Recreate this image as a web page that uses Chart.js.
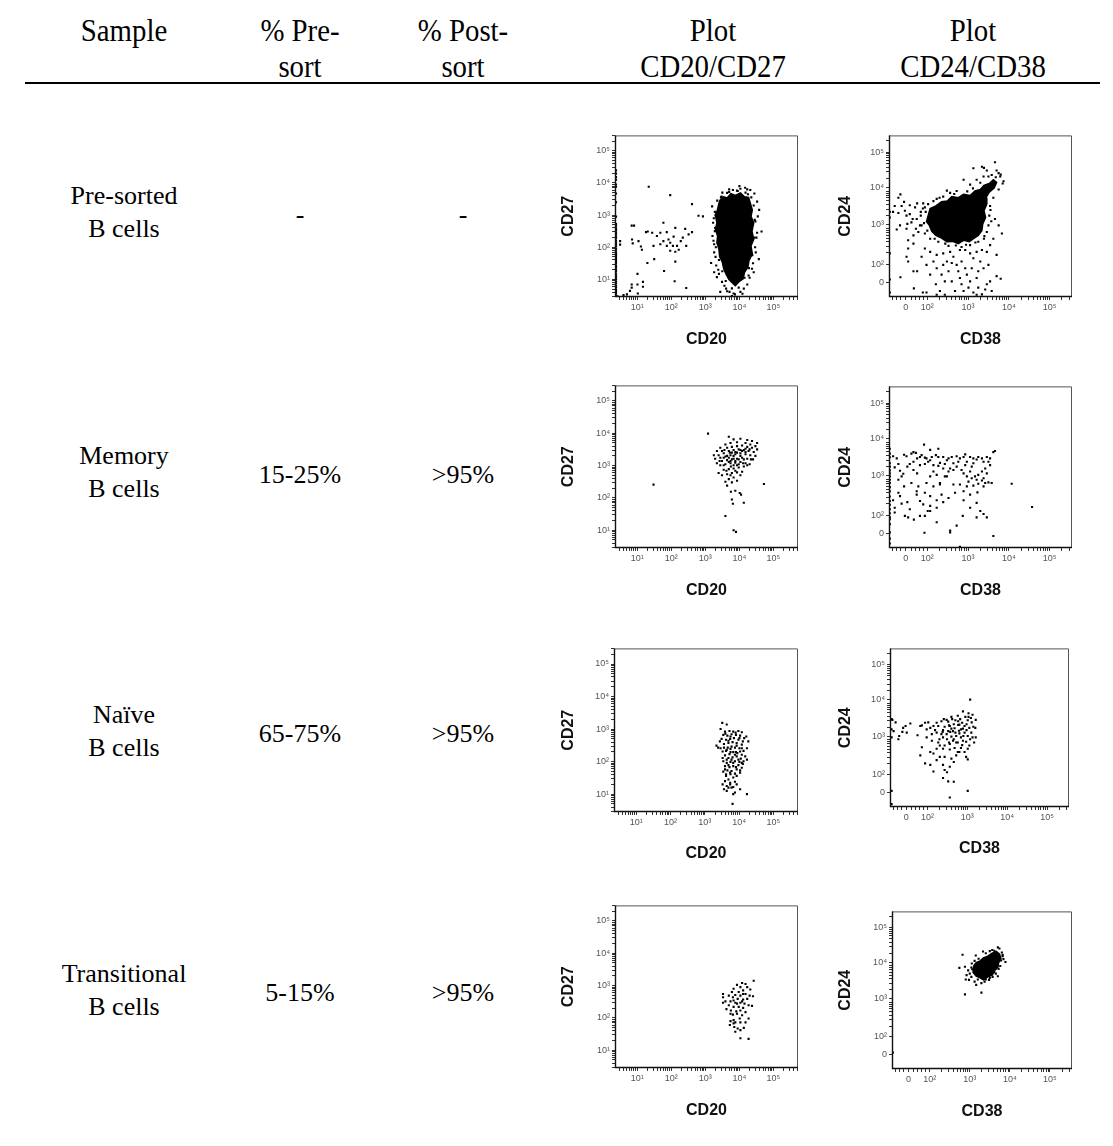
<!DOCTYPE html>
<html>
<head>
<meta charset="utf-8">
<script src="https://cdn.jsdelivr.net/npm/chart.js@4.4.0/dist/chart.umd.min.js"></script>
<style>
  body { margin: 0; background: #fff; }
  #page { position: relative; width: 1113px; height: 1146px; overflow: hidden;
          font-family: "Liberation Serif", "Times New Roman", serif; color: #000; }
  .t { position: absolute; transform: translate(-50%, -50%); white-space: nowrap; text-align: center; }
  .head { font-size: 32px; line-height: 36px; transform: translate(-50%, -50%) scaleX(0.9); }
  .cell { font-size: 26px; line-height: 33px; }
  #rule { position: absolute; left: 25px; top: 82px; width: 1075px; height: 2px; background: #000; }
  canvas { position: absolute; }
</style>
</head>
<body>
<div id="page"><div id="rule"></div></div>
<script>
// table text
const headers = [['Sample'], ['% Pre-', 'sort'], ['% Post-', 'sort'], ['Plot', 'CD20/CD27'], ['Plot', 'CD24/CD38']];
const samples = [['Pre-sorted', 'B cells'], ['Memory', 'B cells'], ['Naïve', 'B cells'], ['Transitional', 'B cells']];
const preSort = ['-', '15-25%', '65-75%', '5-15%'];
const postSort = ['-', '>95%', '>95%', '>95%'];

// axis ticks (display units: decades)
const cd20Ticks = [1, 2, 3, 4, 5];
const cd27Ticks = [1, 2, 3, 4, 5];
const logLabels = ['10¹', '10²', '10³', '10⁴', '10⁵'];
const cd38Ticks = [1.47, 2, 3, 4, 5];
const cd24Ticks = [1.52, 2, 3.05, 4.05, 5];
const biexLabels = ['0', '10²', '10³', '10⁴', '10⁵'];

// Pre-sorted B cells
const preCd20Core = [[3.42,3.45],[3.54,3.57],[3.64,3.53],[3.75,3.67],[3.88,3.61],[4.03,3.69],[4.15,3.57],[4.27,3.55],[4.32,3.37],[4.38,3.16],[4.34,2.96],[4.42,2.76],[4.37,2.50],[4.42,2.24],[4.34,2.04],[4.38,1.79],[4.28,1.58],[4.25,1.38],[4.15,1.22],[4.11,1.02],[3.98,0.92],[3.88,0.80],[3.78,0.90],[3.69,1.00],[3.62,1.14],[3.54,1.33],[3.50,1.53],[3.42,1.71],[3.40,1.94],[3.34,2.14],[3.36,2.35],[3.30,2.55],[3.34,2.76],[3.30,2.98],[3.36,3.18],[3.42,3.45]];
const preCd20Dots = [
  [1.34,3.88],[1.97,3.62],[2.61,3.34],[2.80,2.98],[2.93,2.96],[1.77,2.76],[2.12,2.60],[2.41,2.57],[2.51,2.40],[2.28,2.19],
  [2.07,2.33],[1.92,2.24],[1.68,2.45],[1.58,2.35],[1.48,2.04],[1.68,2.09],[1.87,2.04],[1.97,1.89],[2.12,1.86],[1.97,2.14],
  [2.22,1.92],[2.17,2.04],[2.34,2.30],[0.84,2.67],[0.91,2.67],[0.85,2.24],[0.87,2.12],[1.04,2.19],[1.11,2.02],[1.14,1.92],
  [0.50,2.19],[0.50,2.08],[1.26,2.47],[1.31,2.49],[1.44,2.45],[1.50,1.63],[1.30,1.51],[1.79,1.26],[2.12,1.55],[2.10,0.94],
  [2.44,0.73],[1.01,1.17],[0.84,0.84],[0.84,0.74],[0.79,0.64],[0.70,0.53],[1.01,0.84],[1.17,0.92],[1.17,0.77],[1.02,0.56],
  [0.60,0.51],[0.42,0.47],[1.87,2.47],[1.77,2.19],[2.05,2.04],[2.44,2.04],[2.61,2.47],
  [0.38,4.39],[0.38,4.29],[0.38,4.18],[0.38,4.10],[0.38,3.95],[0.38,3.88],[0.38,3.67],[0.38,3.40],[0.38,2.95],[0.38,2.72],
  [0.38,2.65],[0.38,2.58],[0.38,2.53],[0.38,2.46],[0.38,2.40],[0.38,2.33],[0.38,2.27],[0.38,2.20],[0.38,2.14],[0.38,2.08],
  [0.38,2.02],[0.38,1.95],[0.38,1.89],[0.38,1.82],[0.38,1.76],[0.38,1.70],[0.38,1.63],[0.38,1.57],[0.38,1.51],[0.38,1.44],
  [0.38,1.38],[0.38,1.31],[0.38,1.25],[0.38,1.18],[0.38,1.12],[0.38,1.06],[0.38,1.00],[0.38,0.93],[0.38,0.87],[0.38,0.80],
  [0.38,0.74],[0.38,0.67],[0.38,0.61],[0.38,0.55],[0.38,0.49],
  [3.20,3.27],[3.23,2.76],[3.21,2.35],[3.26,1.84],[3.32,1.43],[3.40,1.17],[3.49,0.92],[3.56,0.80],[3.64,0.63],[3.83,0.56],
  [4.03,0.61],[4.23,0.84],[4.37,1.33],[4.48,1.84],[4.52,2.45],[4.54,2.96],[4.58,3.16],[4.65,2.49],[4.52,3.42],[4.44,3.67],
  [4.23,3.80],[4.03,3.82],[3.81,3.78],[3.64,3.69],[3.46,3.55],[3.32,3.06],[3.44,0.61],[3.87,0.53],[4.09,0.55],[3.17,1.51],
  [3.26,1.22],[3.34,1.07],[4.27,1.12],[4.42,1.22],[4.57,1.63],[4.32,3.78],[3.93,3.76],[4.17,3.85],[3.29,2.60],[3.26,2.09],
  [3.61,0.71],[3.71,0.61],[4.13,0.71],[3.28,3.10],[3.25,2.90],[3.24,2.20],[3.30,1.70],[3.38,1.30],[4.47,2.80],[4.50,2.30],
  [4.46,2.00],[4.40,1.50],[4.30,1.05],[3.70,3.80],[4.00,3.90],[4.25,3.65],[3.50,3.70],[3.95,0.45],[3.78,0.48],[3.35,3.45],
  [3.30,3.00],[3.28,2.50],[3.31,2.00],[3.40,1.60],[3.50,1.25],[3.60,0.95],[3.78,0.72],[3.98,0.74],[4.15,1.05],[4.28,1.35],
  [4.38,1.75],[4.44,2.30],[4.45,2.85],[4.42,3.30],[4.35,3.55],[4.18,3.70],[3.95,3.75],[3.70,3.72],[3.48,3.58]
];
const preCd38Core = [[2.02,3.30],[2.07,3.49],[2.21,3.56],[2.35,3.67],[2.49,3.69],[2.60,3.81],[2.76,3.78],[2.89,3.87],[3.05,3.84],[3.17,3.96],[3.30,4.00],[3.39,4.11],[3.52,4.16],[3.62,4.26],[3.70,4.19],[3.64,4.04],[3.52,3.93],[3.44,3.78],[3.46,3.61],[3.39,3.43],[3.43,3.25],[3.36,3.08],[3.34,2.90],[3.25,2.77],[3.15,2.70],[3.03,2.60],[2.89,2.64],[2.76,2.55],[2.62,2.61],[2.48,2.60],[2.35,2.70],[2.21,2.77],[2.11,2.88],[2.05,3.04],[1.98,3.14],[2.02,3.30]];
const preCd38Dots = [
  [1.16,3.40],[1.29,3.37],[1.37,3.56],[1.45,3.43],[1.49,3.30],[1.57,3.34],[1.61,3.12],[1.70,3.52],[1.74,3.21],[1.82,3.04],
  [1.78,2.86],[1.66,2.77],[1.49,2.95],[1.33,3.04],[1.25,2.93],[1.29,3.78],[1.34,3.87],[1.75,3.63],[1.84,3.40],[1.90,3.63],
  [1.57,3.58],[1.43,3.67],[1.20,3.56],[1.94,3.52],[1.64,3.21],[1.51,3.08],[1.72,2.95],
  [1.08,3.40],[1.08,3.25],[1.08,2.29],[1.08,1.59],[1.08,1.24],[1.34,1.65],
  [1.49,2.20],[1.53,2.07],[1.75,1.81],[1.98,1.98],[2.07,1.72],[2.23,1.89],[2.21,1.46],[2.31,1.28],[2.43,1.54],[2.52,1.81],
  [2.48,2.07],[2.64,2.20],[2.72,1.98],[2.80,1.63],[2.84,1.46],[2.89,1.28],[2.97,1.72],[3.05,1.54],[3.09,1.89],[3.13,2.16],
  [3.21,1.63],[3.25,1.37],[3.34,1.19],[3.38,1.89],[3.46,1.46],[3.54,1.54],[3.58,1.28],[3.70,1.68],[3.70,2.25],[3.80,1.61],
  [3.83,2.82],[3.75,3.04],[3.66,3.21],[3.62,2.68],[3.54,2.51],[3.46,2.33],[3.34,2.38],[3.21,2.33],[3.05,2.29],[2.93,2.38],
  [2.80,2.38],[2.56,2.33],[2.39,2.29],[2.23,2.25],[2.07,2.33],[1.94,2.42],[1.86,2.20],[1.66,1.81],[2.43,1.18],[2.23,1.18],
  [3.21,1.18],[1.67,1.35],[1.98,1.24],[1.89,1.24],[1.53,2.42],[1.66,2.55],[1.53,2.64],[2.35,1.72],[2.60,1.54],[2.68,1.28],
  [2.76,1.81],[3.01,1.37],[3.13,1.24],[3.42,1.32],[2.84,2.07],[3.30,2.07],[2.39,1.98],[2.15,2.07],[2.60,2.03],[2.93,1.89],
  [3.25,1.81],[3.50,1.98],
  [3.13,4.57],[3.34,4.61],[3.39,4.58],[3.46,4.51],[3.66,4.73],[3.87,4.22],[3.70,4.51],[3.58,4.39],[2.72,3.96],[2.89,4.26],
  [2.48,3.97],[2.39,3.81],[2.15,3.69],[2.23,3.75],[3.05,4.13],[3.21,4.26],[3.38,4.35],[3.50,4.35],[3.75,4.44],[3.79,4.35],
  [3.85,4.16],[3.75,4.00],[3.62,3.78],[3.54,3.56],[3.52,3.30],[3.50,3.04],[3.46,2.86],[3.39,2.68],[3.25,2.60],[3.05,2.51],
  [2.84,2.46],[2.52,2.49],[2.27,2.60],[2.07,2.68],[1.94,2.82],[1.86,3.04],[1.84,3.30],[1.89,3.49],[2.02,3.61],[2.56,3.91],
  [3.60,4.05],[3.47,3.92],[3.30,4.18],[3.12,4.03],[2.98,3.95],[2.66,3.88],[2.30,3.78],[3.55,3.45],[3.57,3.15],[3.40,2.75],
  [3.18,2.58],[2.95,2.52],[2.70,2.50],[2.44,2.55],[2.18,2.68],[2.00,2.90],[1.92,3.10],[1.96,3.40],[3.68,4.33],[3.80,4.40]
];

// Memory B cells
const memCd20Dots = [
  [3.69,3.89],[3.83,3.81],[4.03,3.83],[4.23,3.79],[4.37,3.76],[4.52,3.70],[4.47,3.60],[4.32,3.65],[4.18,3.70],[3.93,3.72],
  [3.74,3.70],[3.59,3.65],[3.44,3.55],[3.34,3.45],[3.49,3.45],[3.64,3.55],[3.78,3.58],[3.93,3.60],[4.08,3.62],[4.23,3.58],
  [4.37,3.55],[4.52,3.50],[4.42,3.42],[4.27,3.45],[4.13,3.48],[3.98,3.50],[3.83,3.48],[3.69,3.45],[3.54,3.38],[3.39,3.32],
  [3.25,3.32],[3.29,3.21],[3.44,3.24],[3.59,3.28],[3.74,3.32],[3.88,3.35],[4.03,3.38],[4.18,3.35],[4.32,3.32],[4.47,3.30],
  [4.40,3.19],[4.23,3.21],[4.08,3.24],[3.93,3.21],[3.78,3.19],[3.64,3.17],[3.49,3.14],[3.34,3.07],[3.44,3.01],[3.59,3.04],
  [3.74,3.07],[3.88,3.09],[4.03,3.11],[4.18,3.07],[4.30,3.04],[4.13,2.97],[3.98,2.94],[3.83,2.91],[3.69,2.89],[3.54,2.87],
  [3.39,2.77],[3.49,2.70],[3.64,2.73],[3.78,2.77],[3.93,2.79],[4.08,2.81],[3.83,2.63],[3.69,2.58],[3.59,2.50],[3.78,2.48],
  [3.93,2.53],[3.64,2.38],[3.75,2.19],[3.88,2.22],[4.01,2.15],[4.05,2.10],[3.78,1.95],[3.81,1.82],[4.13,1.85],[3.59,1.44],
  [3.83,1.00],[3.90,0.95],[3.08,3.99],[1.48,2.41],[4.72,2.43],
  [3.83,3.30],[3.93,3.40],[3.78,3.40],[3.69,3.24],[4.03,3.30],[4.13,3.19],[3.88,3.14],[3.64,3.30],[3.98,3.04],[3.83,3.01],
  [4.08,3.45],[3.74,3.14],[3.54,3.01],[4.18,3.52],
  [3.56,3.48],[3.72,3.40],[3.88,3.42],[4.03,3.48],[4.18,3.42],[4.30,3.50],[4.34,3.19],[3.98,3.19],[3.83,3.21],[3.54,3.24],
  [3.42,3.14],[3.69,3.11],[4.11,3.07],[3.93,3.01],[3.75,2.97],[4.23,3.01],[3.62,2.84],[3.88,2.84],[4.03,2.70],[3.74,2.70]
];
const memCd38Dots = [
  [1.16,3.58],[1.25,3.52],[1.29,3.37],[1.20,3.28],[1.33,3.19],[1.37,3.04],[1.29,2.95],[1.43,3.62],[1.49,3.58],[1.61,3.65],
  [1.66,3.69],[1.72,3.67],[1.82,3.56],[1.92,3.89],[1.86,3.61],[1.75,3.52],[1.66,3.43],[1.57,3.37],[1.51,3.30],[1.41,3.11],
  [1.66,3.21],[1.75,3.12],[1.82,3.34],[1.94,3.37],[2.02,3.43],[1.98,3.52],[2.07,3.47],[2.15,3.34],[2.11,3.56],[2.21,3.61],
  [2.27,3.56],[2.31,3.40],[2.27,3.32],[2.15,3.17],[2.07,3.04],[2.23,3.08],[2.39,3.25],[2.43,3.37],[2.48,3.47],[2.52,3.52],
  [2.60,3.56],[2.64,3.39],[2.56,3.25],[2.52,3.17],[2.64,3.21],[2.72,3.30],[2.76,3.43],[2.80,3.52],[2.89,3.56],[2.97,3.43],
  [2.93,3.34],[2.84,3.21],[2.89,3.12],[2.97,3.04],[3.05,3.17],[3.09,3.30],[3.13,3.39],[3.21,3.49],[3.25,3.56],[3.34,3.52],
  [3.38,3.43],[3.46,3.56],[3.50,3.43],[3.54,3.34],[3.42,3.25],[3.34,3.17],[3.25,3.08],[3.17,3.04],[3.09,2.99],[3.01,2.90],
  [3.21,2.95],[3.38,2.99],[3.46,3.12],[3.54,3.52],[3.62,3.69],[3.66,3.72],[3.58,2.86],[3.50,2.88],[3.42,2.86],[3.34,2.93],
  [3.13,3.52],[3.05,3.56],[2.93,3.63],[2.72,3.58],[2.39,3.56],[2.27,3.78],[2.07,3.75],[1.94,3.54],[2.43,3.04],[1.98,2.86],
  [2.15,2.77],[2.31,2.86],[2.48,3.04],[2.64,2.82],[2.80,2.82],[2.97,2.77],[3.13,2.79],[3.25,2.84],[1.78,2.77],[1.61,2.86],
  [1.43,2.77],[1.74,2.55],[1.82,2.38],[1.94,2.60],[2.07,2.51],[2.23,2.40],[2.35,2.55],[2.52,2.46],[2.68,2.60],[2.89,2.64],
  [3.05,2.55],[3.23,2.61],[3.38,2.77],[1.90,2.29],[2.07,2.25],[2.23,2.20],[2.39,2.35],[2.89,2.40],[3.05,2.20],[3.21,2.33],
  [3.30,2.11],[3.38,2.03],[3.46,1.94],[3.21,1.94],[2.87,1.98],[2.72,1.72],[2.56,1.59],[2.23,1.81],[2.01,2.11],[1.94,1.98],
  [2.07,2.11],[1.82,1.98],[1.45,1.98],[1.53,1.94],[1.57,2.16],[1.33,2.51],[1.29,2.60],[1.16,2.40],[1.20,2.20],[1.20,2.07],
  [1.37,2.31],[1.51,2.35],[1.67,1.88],[1.74,2.64],[1.93,1.53],[2.56,1.54],[2.31,2.82],[4.57,2.22],[3.62,1.44],[2.80,1.15],
  [4.07,2.84],
  [1.08,3.78],[1.08,3.65],[1.08,3.55],[1.08,3.39],[1.08,3.30],[1.08,3.20],[1.08,3.12],[1.08,3.04],[1.08,2.95],[1.08,2.86],
  [1.08,2.75],[1.08,2.64],[1.08,2.50],[1.08,2.38],[1.08,2.28],[1.08,2.16],[1.08,2.05],[1.08,1.94],[1.08,1.89],[1.08,1.76],
  [1.08,1.54],[1.08,1.37],[1.08,1.24]
];

// Naive B cells
const naiCd20Dots = [
  [3.51,3.19],[3.64,3.14],[3.46,3.00],[3.59,2.92],[3.72,2.94],[3.83,2.92],[3.98,2.94],[4.08,2.90],[4.21,2.77],[4.27,2.62],
  [4.15,2.72],[4.03,2.80],[3.91,2.82],[3.78,2.84],[3.66,2.80],[3.54,2.82],[3.49,2.70],[3.62,2.67],[3.74,2.70],[3.85,2.72],
  [3.98,2.67],[4.11,2.62],[4.08,2.52],[3.93,2.57],[3.81,2.60],[3.69,2.57],[3.56,2.54],[3.46,2.41],[3.39,2.43],[3.52,2.31],
  [3.64,2.36],[3.75,2.39],[3.88,2.43],[4.01,2.41],[4.13,2.33],[4.08,2.21],[3.95,2.26],[3.83,2.29],[3.72,2.23],[3.59,2.19],
  [3.69,2.11],[3.81,2.13],[3.93,2.16],[4.05,2.09],[4.18,2.16],[4.13,2.01],[4.01,1.99],[3.88,2.01],[3.75,1.99],[3.64,1.96],
  [3.54,2.01],[3.59,1.86],[3.72,1.83],[3.83,1.86],[3.98,1.89],[4.11,1.93],[3.93,1.76],[3.78,1.71],[3.66,1.73],[3.54,1.69],
  [3.62,1.56],[3.75,1.61],[3.88,1.63],[4.03,1.66],[3.83,1.51],[3.69,1.45],[3.59,1.40],[3.74,1.35],[3.88,1.38],[3.52,1.30],
  [3.64,1.25],[3.93,1.30],[3.69,1.20],[3.83,1.22],[4.03,1.15],[3.56,1.15],[3.83,1.00],[3.74,1.30],[3.88,1.05],[4.23,1.00],
  [3.64,1.10],[3.81,0.70],[3.91,2.29],[3.78,2.06],[3.67,2.43],[3.52,2.11],[4.08,1.81],[4.23,2.41],[3.44,2.62],[3.34,2.49],
  [4.23,2.06],
  [3.60,2.86],[3.75,2.77],[3.90,2.89],[4.01,2.72],[3.69,2.64],[3.93,2.49],[3.78,2.46],[3.62,2.33],[4.03,2.31],[3.88,2.21],
  [3.75,2.29],[3.64,2.06],[3.98,2.06],[3.83,1.96],[4.08,1.96],[3.69,1.89],[3.91,1.83],[3.59,1.76],[4.03,1.73],[3.74,1.66],
  [3.93,1.56],[3.78,1.20],[3.62,1.61],[4.08,2.41],[3.56,2.43]
];
const naiCd38Dots = [
  [1.12,3.50],[1.20,3.43],[1.15,3.19],[1.29,3.06],[1.37,3.17],[1.45,3.33],[1.48,3.15],[1.57,3.40],[1.27,2.97],[1.39,3.28],
  [1.75,3.08],[1.82,3.33],[1.86,3.35],[1.94,3.42],[1.98,3.24],[2.02,3.43],[2.07,3.28],[2.11,3.11],[2.15,3.33],[2.19,3.22],
  [1.98,3.02],[2.11,2.93],[2.23,3.42],[2.27,2.88],[2.23,2.71],[2.15,2.58],[2.07,2.62],[1.86,2.75],[1.82,2.53],[1.94,2.31],
  [2.07,2.27],[2.15,2.09],[2.23,2.40],[2.31,2.49],[2.39,2.27],[2.43,2.13],[2.49,2.07],[2.56,2.22],[2.43,2.49],[2.60,2.44],
  [2.66,2.35],[2.72,2.53],[2.76,2.62],[2.68,2.73],[2.56,2.69],[2.39,2.71],[2.31,2.80],[2.84,2.73],[2.93,2.62],[2.97,2.49],
  [3.01,2.42],[2.39,1.91],[2.52,1.82],[2.66,1.81],[2.56,1.38],[3.01,1.56],[3.07,4.05],[2.80,2.62],[3.05,2.80],[3.17,2.88],
  [3.21,3.02],[3.20,3.28],[3.21,3.50],[3.13,3.64],[3.03,3.68],[2.89,3.73],[2.76,3.61],[2.60,3.58],[2.48,3.50],[2.35,3.46],
  [2.27,3.33],[2.23,3.15],[2.30,2.97],[2.43,2.80],[2.56,2.84],[2.72,2.88],[2.89,2.93],[3.01,2.71],[3.09,3.55],[2.84,3.24],
  [2.64,3.19],[2.52,3.19],[2.72,3.06],[2.93,3.15],[3.05,3.28],[2.56,3.33],[2.80,3.37],[2.93,3.33],[2.64,2.93],[2.84,3.02],
  [2.39,3.22],[2.35,3.11],
  [2.41,3.52],[2.52,3.45],[2.62,3.52],[2.70,3.49],[2.82,3.52],[2.95,3.58],[3.01,3.49],[3.11,3.43],[2.98,3.38],[2.87,3.42],
  [2.77,3.36],[2.66,3.38],[2.54,3.35],[2.43,3.31],[2.38,3.17],[2.48,3.11],[2.57,3.17],[2.68,3.27],[2.79,3.20],[2.89,3.26],
  [2.98,3.22],[3.10,3.15],[3.13,3.02],[3.01,3.06],[2.90,3.06],[2.80,3.13],[2.70,3.15],[2.60,3.04],[2.49,2.97],[2.39,3.02],
  [2.54,2.88],[2.66,2.97],[2.76,2.88],[2.87,2.81],[2.97,2.90],[3.07,2.97],[3.15,3.31],[3.03,3.58],[2.77,3.46],[2.60,3.26],
  [1.10,3.52],[1.10,3.24],[1.10,3.02],[1.10,1.56],[1.10,1.20]
];

// Transitional B cells
const transCd20Dots = [
  [4.42,3.15],[4.08,3.08],[4.18,3.05],[3.93,3.02],[3.83,2.90],[4.03,2.95],[4.23,2.95],[4.32,2.88],[4.11,2.85],[3.98,2.80],
  [3.88,2.71],[4.03,2.69],[4.18,2.74],[4.30,2.69],[4.40,2.67],[4.23,2.59],[4.11,2.57],[3.95,2.59],[3.81,2.64],[3.69,2.69],
  [3.74,2.51],[3.88,2.47],[4.03,2.47],[4.15,2.44],[4.27,2.39],[4.37,2.37],[4.11,2.31],[3.98,2.34],[3.83,2.34],[3.69,2.39],
  [3.59,2.51],[3.52,2.74],[3.52,2.64],[3.52,2.47],[3.62,2.27],[3.75,2.23],[3.91,2.20],[4.03,2.23],[4.18,2.18],[4.08,2.08],
  [3.93,2.13],[3.81,2.10],[4.01,1.98],[3.83,1.93],[3.74,1.90],[3.88,1.86],[4.03,1.86],[4.18,1.86],[4.27,1.98],[3.72,1.78],
  [3.85,1.72],[3.95,1.67],[4.03,1.62],[4.13,1.69],[3.88,1.57],[4.03,1.37],[4.27,1.35],[3.83,1.83],[3.78,2.80],[3.93,2.44],
  [4.08,2.51],[3.83,2.54],[3.74,2.13],[4.11,2.74]
];
const transCd38Core = [[3.10,3.96],[3.16,4.04],[3.26,4.09],[3.34,4.17],[3.45,4.22],[3.56,4.30],[3.66,4.35],[3.74,4.28],[3.78,4.16],[3.72,4.04],[3.70,3.91],[3.61,3.81],[3.56,3.70],[3.45,3.65],[3.34,3.57],[3.25,3.63],[3.16,3.67],[3.08,3.78],[3.10,3.96]];
const transCd38Dots = [
  [2.82,4.26],[3.15,4.24],[3.33,4.35],[3.56,4.39],[3.70,4.46],[3.74,4.43],[3.61,4.37],[3.82,4.22],[3.89,4.06],[3.78,4.10],
  [2.74,3.90],[2.88,3.93],[2.92,3.70],[2.98,3.57],[3.04,3.65],[2.96,3.83],[3.12,3.52],[3.20,3.58],[3.29,3.48],[3.37,3.52],
  [3.48,3.57],[3.57,3.65],[3.70,3.67],[3.61,3.78],[3.37,3.81],[3.25,3.91],[3.16,3.87],[3.41,4.02],[3.53,4.13],[3.59,3.96],
  [3.29,4.04],[3.72,3.87],[3.82,4.26],[3.66,4.22],[3.48,3.87],[3.23,3.76],[3.12,4.09],[3.04,3.91],[2.90,3.58],[2.88,3.17],
  [3.29,3.22],[3.16,3.43],[3.34,3.96],[3.56,3.90],[3.66,4.00],[3.20,4.00],[3.00,3.74],[1.08,1.57],
  [3.05,4.02],[3.22,4.15],[3.40,4.30],[3.50,4.36],[3.80,4.32],[3.84,4.14],[3.76,3.95],[3.65,3.74],[3.50,3.62],[3.40,3.58],
  [3.06,3.86],[3.28,3.70],[3.52,3.75],[3.70,4.10]
];

// page layout (pixel boxes of each plot frame)
const colX = [124, 300, 463, 713, 973];
const headY = [30, 66];
const rowY = [212, 472, 731, 990];
const cd20Boxes = [[615,132,798,297],[615,382,798,548],[614,645,798,812],[615,902,798,1068]];
const cd38Boxes = [[889,132,1072,297],[889,383,1072,548],[890,645,1069,807],[892,908,1072,1069]];
const cd20TitleY = [339, 590, 853, 1110];
const cd38TitleY = [339, 590, 848, 1111];

const page = document.getElementById('page');
function addText(cls, x, y, html) {
  const d = document.createElement('div');
  d.className = 't ' + cls;
  d.style.left = x + 'px';
  d.style.top = y + 'px';
  d.innerHTML = html;
  page.appendChild(d);
}
headers.forEach((lines, i) => lines.forEach((s, j) => addText('head', colX[i], headY[j], s)));
samples.forEach((lines, i) => addText('cell', colX[0], rowY[i], lines.join('<br>')));
preSort.forEach((s, i) => addText('cell', colX[1], rowY[i] + 2, s.replace('>', '&gt;')));
postSort.forEach((s, i) => addText('cell', colX[2], rowY[i] + 2, s.replace('>', '&gt;')));

// minor tick positions
function logMinor(lo, hi, fromDecade) {
  const out = [];
  for (let d = fromDecade; d <= 5; d++) {
    for (let k = 2; k <= 9; k++) {
      const v = d + Math.log10(k);
      if (v > lo && v < hi) out.push(v);
    }
  }
  return out;
}
const biexLinMinor = [1.15, 1.25, 1.35, 1.6, 1.7, 1.8, 1.9];

const framePlugin = {
  id: 'frame',
  afterDatasetsDraw(chart) {
    const { ctx, chartArea: a } = chart;
    ctx.save();
    ctx.lineWidth = 1;
    ctx.strokeStyle = '#555';
    ctx.beginPath();
    ctx.moveTo(a.left, a.top + 0.5); ctx.lineTo(a.right - 0.5, a.top + 0.5); ctx.lineTo(a.right - 0.5, a.bottom);
    ctx.stroke();
    ctx.strokeStyle = '#111';
    ctx.lineWidth = 1.4;
    ctx.beginPath();
    ctx.moveTo(a.left + 0.5, a.top); ctx.lineTo(a.left + 0.5, a.bottom - 0.5); ctx.lineTo(a.right, a.bottom - 0.5);
    ctx.stroke();
    ctx.restore();
  }
};

const sans = 'Liberation Sans, Arial, sans-serif';
const titleSize = 16;
const titleLH = titleSize * 1.2;

function axis(name, range, major, labels, minor, fit) {
  return {
    type: 'linear',
    min: range[0],
    max: range[1],
    afterBuildTicks: (s) => { s.ticks = major.concat(minor).sort((a, b) => a - b).map((v) => ({ value: v })); },
    afterFit: fit,
    ticks: {
      autoSkip: false, maxRotation: 0, padding: 2, color: '#555',
      font: { size: 9, family: sans },
      callback: (v) => {
        const i = major.findIndex((m) => Math.abs(m - v) < 1e-9);
        return i < 0 ? '' : labels[i];
      }
    },
    grid: { drawOnChartArea: false, tickLength: 3, tickColor: '#333' },
    border: { display: false },
    title: {
      display: true, text: name, color: '#111',
      font: { size: titleSize, weight: 'bold', family: sans },
      padding: { top: 2, bottom: 2 }
    }
  };
}

function drawPlot(p) {
  const [l, t, r, b] = p.box;
  const padTop = 4, padRight = 4;
  const yAxisW = Math.round(l - (p.yTitleX - titleLH / 2 - 2));
  const xAxisH = Math.round(p.xTitleY + titleLH / 2 + 2 - b);
  const canvas = document.createElement('canvas');
  canvas.width = yAxisW + (r - l) + padRight;
  canvas.height = padTop + (b - t) + xAxisH;
  canvas.style.left = (l - yAxisW) + 'px';
  canvas.style.top = (t - padTop) + 'px';
  page.appendChild(canvas);

  const datasets = [];
  if (p.core) {
    datasets.push({
      data: p.core.map(([x, y]) => ({ x, y })),
      showLine: true, fill: 'shape', tension: 0,
      backgroundColor: '#000', borderColor: '#000', borderWidth: 1.5, pointRadius: 0
    });
  }
  datasets.push({
    data: p.dots.map(([x, y]) => ({ x, y })),
    pointStyle: 'rect', pointRadius: 1.5, backgroundColor: '#000', borderWidth: 0
  });

  new Chart(canvas, {
    type: 'scatter',
    data: { datasets },
    options: {
      responsive: false,
      animation: false,
      events: [],
      layout: { padding: { top: padTop, right: padRight, left: 0, bottom: 0 } },
      plugins: { legend: { display: false }, tooltip: { enabled: false } },
      scales: {
        x: axis(p.xName, p.xRange, p.xTicks, p.xLabels, p.xMinor, (s) => { s.height = xAxisH; }),
        y: axis(p.yName, p.yRange, p.yTicks, p.yLabels, p.yMinor, (s) => { s.width = yAxisW; })
      }
    },
    plugins: [framePlugin]
  });
}

const cd20Range = [0.35, 5.72], cd27Range = [0.45, 5.48];
const cd38Range = [1.06, 5.55], cd24Range = [1.12, 5.45];
const cd20Sets = [[preCd20Dots, preCd20Core], [memCd20Dots, null], [naiCd20Dots, null], [transCd20Dots, null]];
const cd38Sets = [[preCd38Dots, preCd38Core], [memCd38Dots, null], [naiCd38Dots, null], [transCd38Dots, transCd38Core]];

for (let i = 0; i < 4; i++) {
  drawPlot({
    box: cd20Boxes[i], xTitleY: cd20TitleY[i], yTitleX: 569,
    xName: 'CD20', yName: 'CD27',
    xRange: cd20Range, yRange: cd27Range,
    xTicks: cd20Ticks, yTicks: cd27Ticks, xLabels: logLabels, yLabels: logLabels,
    xMinor: logMinor(cd20Range[0], cd20Range[1], 0), yMinor: logMinor(cd27Range[0], cd27Range[1], 0),
    dots: cd20Sets[i][0], core: cd20Sets[i][1]
  });
  drawPlot({
    box: cd38Boxes[i], xTitleY: cd38TitleY[i], yTitleX: 846,
    xName: 'CD38', yName: 'CD24',
    xRange: cd38Range, yRange: cd24Range,
    xTicks: cd38Ticks, yTicks: cd24Ticks, xLabels: biexLabels, yLabels: biexLabels,
    xMinor: biexLinMinor.concat(logMinor(2, cd38Range[1], 2)), yMinor: logMinor(2, cd24Range[1], 2),
    dots: cd38Sets[i][0], core: cd38Sets[i][1]
  });
}
</script>
</body>
</html>
